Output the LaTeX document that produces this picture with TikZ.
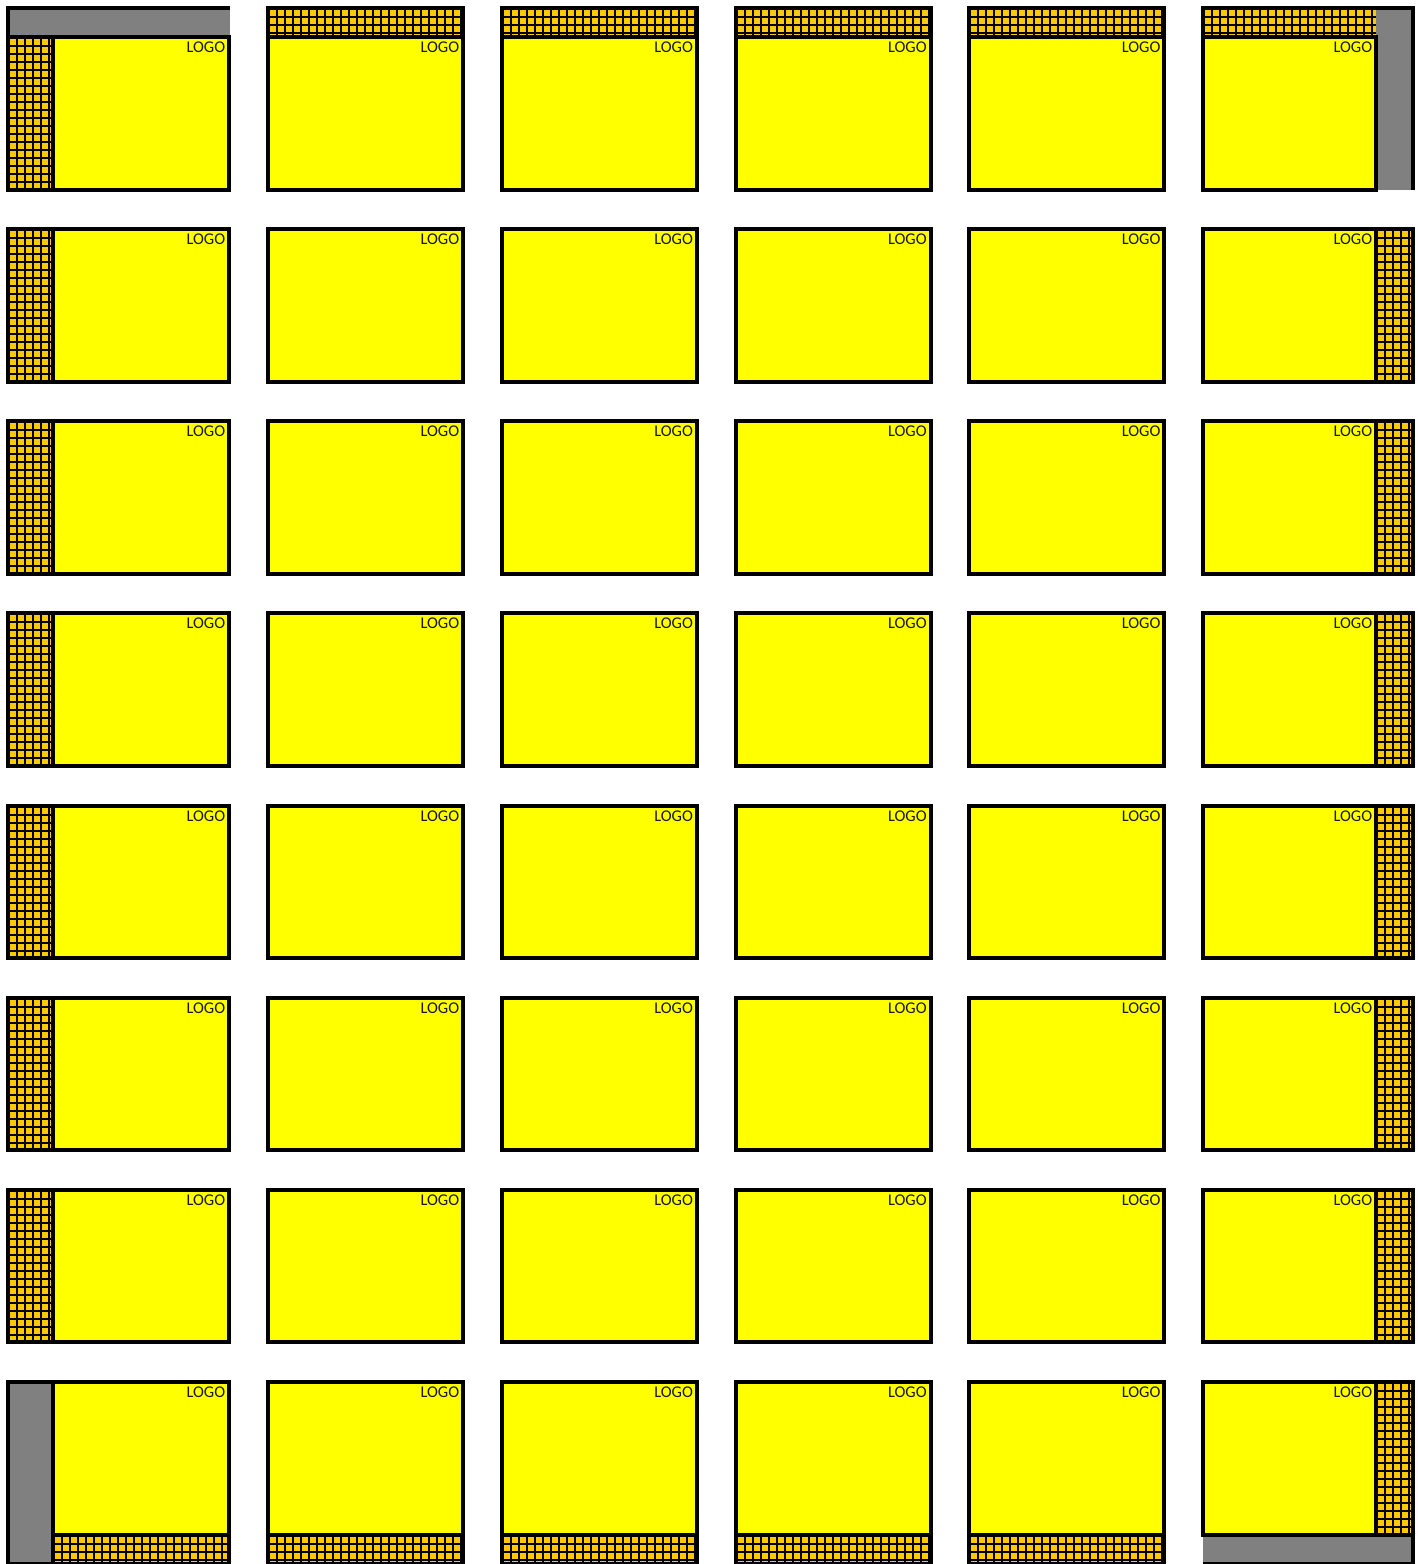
\documentclass[tikz,border=0pt]{standalone}
\usepackage{fontspec}
\newfontfamily\logofont{Carlito}
\definecolor{hatchc}{RGB}{255,200,0}
\definecolor{bandgray}{RGB}{128,128,128}
\definecolor{panely}{RGB}{255,255,0}
\newcommand\hatchbox[4]{%
  \fill[hatchc] (#1,#2) rectangle (#3,#4);
  \begin{scope}
    \clip (#1,#2) rectangle (#3,#4);
    \pgfmathtruncatemacro\hnx{(#3-#1)/8+1}
    \pgfmathtruncatemacro\hny{(#4-#2)/8+1}
    \foreach \k in {0,...,\hnx}{\draw[gridln] ({#1+9+8*\k},{#2}) -- ({#1+9+8*\k},{#4});}
    \foreach \k in {0,...,\hny}{\draw[gridln] ({#1},{#2+9+8*\k}) -- ({#3},{#2+9+8*\k});}
  \end{scope}}
\begin{document}
\begin{tikzpicture}[x=0.5pt,y=-0.5pt,
  outl/.style={line width=2pt,draw=black},
  gridln/.style={line width=1pt,black},
  yel/.style={fill=panely,draw=black,line width=2pt},
  logo/.style={anchor=north east,inner sep=0pt,text=black!90,font=\logofont\fontsize{8.2pt}{9pt}\selectfont}]
\useasboundingbox (0,0) rectangle (1418,1564);
\fill[white] (0,0) rectangle (1418,1564);
% top and bottom bands, columns 2..5
\foreach \c in {1,...,4}{
  \pgfmathsetmacro\cL{{53,268,501.75,735.5,969.25,1203}[\c]}
  \pgfmathsetmacro\cR{{229,463,696.75,930.5,1164.25,1376}[\c]}
  \hatchbox{\cL}{8}{\cR}{37}
  \draw[outl] (\cL,37) -- (\cL,8) -- (\cR,8) -- (\cR,37);
  \hatchbox{\cL}{1534.5}{\cR}{1564}
  \draw[outl] (\cL,1534.5) -- (\cL,1564) -- (\cR,1564) -- (\cR,1534.5);
}
% left and right bands, rows 2..7
\foreach \r in {1,...,6}{
  \pgfmathsetmacro\rT{37+192.14*\r}
  \pgfmathsetmacro\rB{\rT+152.5}
  \hatchbox{8}{\rT}{53}{\rB}
  \draw[outl] (53,\rT) -- (8,\rT) -- (8,\rB) -- (53,\rB);
  \hatchbox{1376}{\rT}{1413}{\rB}
  \draw[outl] (1376,\rT) -- (1413,\rT) -- (1413,\rB) -- (1376,\rB);
}
% top-left corner
\fill[bandgray] (8,8) rectangle (230,37);
\hatchbox{8}{37}{53}{189.5}
\draw[outl] (230,8) -- (8,8) -- (8,189.5) -- (53,189.5);
\draw[outl] (8,37) -- (53,37);
% top-right corner
\hatchbox{1203}{8}{1376}{37}
\fill[bandgray] (1376,8) rectangle (1413,190);
\draw[outl] (1203,37) -- (1203,8) -- (1413,8) -- (1413,190);
% bottom-left corner
\fill[bandgray] (8,1382) rectangle (53,1564);
\hatchbox{53}{1534.5}{229}{1564}
\draw[outl] (53,1382) -- (8,1382) -- (8,1564) -- (229,1564) -- (229,1534.5);
\draw[outl] (53,1534.5) -- (53,1564);
% bottom-right corner
\hatchbox{1376}{1382}{1413}{1534.5}
\fill[bandgray] (1203,1534.5) rectangle (1413,1564);
\draw[outl] (1376,1382) -- (1413,1382) -- (1413,1564) -- (1203,1564);
\draw[outl] (1376,1534.5) -- (1413,1534.5);
% yellow panels with LOGO
\foreach \r in {0,...,7}{
  \foreach \c in {0,...,5}{
    \pgfmathsetmacro\cL{{53,268,501.75,735.5,969.25,1203}[\c]}
    \pgfmathsetmacro\cR{{229,463,696.75,930.5,1164.25,1376}[\c]}
    \pgfmathsetmacro\rT{37+192.14*\r}
    \pgfmathsetmacro\rB{\rT+152.5}
    \draw[yel] (\cL,\rT) rectangle (\cR,\rB);
    \node[logo] (logo-\r-\c) at ({\cR-3.5},{\rT+4.5}) {LOGO};
  }
}
\end{tikzpicture}
\end{document}
